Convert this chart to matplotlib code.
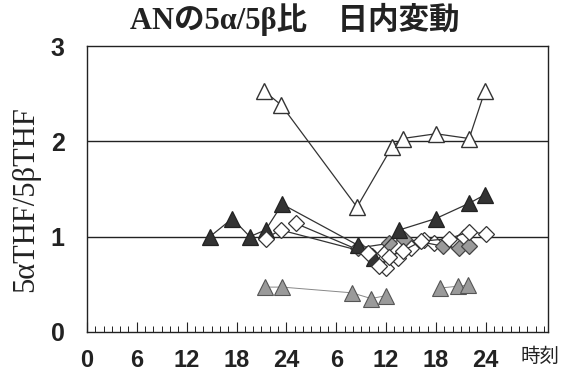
import numpy as np
import matplotlib
matplotlib.use("Agg")
import matplotlib.pyplot as plt
from matplotlib.ticker import MultipleLocator, FixedLocator

# elapsed hours since 0:00 of day 1, and 5αTHF/5βTHF ratio
open_tri_h = [21.3, 23.4, 32.5, 36.7, 38.0, 42.0, 46.0, 47.9]
open_tri_v = [2.53, 2.38, 1.31, 1.94, 2.03, 2.08, 2.03, 2.53]

dark_tri_h = [14.8, 17.5, 19.6, 21.5, 23.5, 32.6, 34.5, 37.6, 42.0, 46.0, 47.9]
dark_tri_v = [1.00, 1.19, 1.00, 1.07, 1.34, 0.91, 0.78, 1.07, 1.19, 1.35, 1.44]

gray_tri_h = [21.4, 23.5, 31.9, 34.2, 36.0, np.nan, 42.5, 44.7, 45.9]
gray_tri_v = [0.47, 0.47, 0.41, 0.35, 0.38, np.nan, 0.46, 0.48, 0.49]

gray_dia_h = [32.6, 36.4, 38.2, 42.8, 44.8, 46.0]
gray_dia_v = [0.88, 0.93, 0.98, 0.90, 0.88, 0.90]

open_dia1_h = [21.5, 23.3, 33.8, 35.1, 36.4, 38.0, 40.2, 43.6, 46.0, 48.0]
open_dia1_v = [0.98, 1.07, 0.83, 0.69, 0.79, 0.85, 0.95, 0.98, 1.05, 1.03]

open_dia2_h = [25.1, 34.3, 36.0, 37.4, 39.0, 40.6, 41.8, 45.4]
open_dia2_v = [1.14, 0.80, 0.67, 0.78, 0.88, 0.96, 0.93, 1.00]

x_ticks = [0, 6, 12, 18, 24, 30, 36, 42, 48]
x_labels = ["0", "6", "12", "18", "24", "6", "12", "18", "24"]
y_ticks = [0, 1, 2, 3]

fig = plt.figure(figsize=(5.61, 3.75), dpi=100)
ax = fig.add_axes([0.155, 0.115, 0.822, 0.762])

for yv in (1, 2):
    ax.axhline(yv, color="#222222", lw=1.0, zorder=1)

line_kw = dict(color="#333333", lw=0.9, zorder=2)
ax.plot(gray_tri_h, gray_tri_v, color="#888888", lw=0.7, zorder=2)
ax.plot(gray_tri_h, gray_tri_v, ls="none", marker="^", ms=11,
        mfc="#9a9a9a", mec="#555555", mew=0.8, zorder=3)

ax.plot(open_tri_h, open_tri_v, marker="^", ms=12, mfc="white",
        mec="#333333", mew=1.0, **line_kw)

ax.plot(open_dia2_h, open_dia2_v, marker="D", ms=8, mfc="white",
        mec="#333333", mew=0.9, **line_kw)
ax.plot(gray_dia_h, gray_dia_v, marker="D", ms=8, mfc="#9a9a9a",
        mec="#444444", mew=0.9, **line_kw)
ax.plot(dark_tri_h, dark_tri_v, marker="^", ms=12, mfc="#333333",
        mec="#222222", mew=0.9, **line_kw)
ax.plot(open_dia1_h, open_dia1_v, marker="D", ms=8, mfc="white",
        mec="#333333", mew=0.9, **line_kw)

ax.set_xlim(0, 55.5)
ax.set_ylim(0, 3)

ax.xaxis.set_major_locator(FixedLocator(x_ticks))
ax.xaxis.set_minor_locator(MultipleLocator(1))
ax.set_xticks(x_ticks)
ax.set_xticklabels(x_labels)
ax.set_yticks(y_ticks)
ax.tick_params(axis="x", which="major", direction="in", length=7, width=0.8,
               pad=12, labelsize=17, colors="#222222")
ax.tick_params(axis="x", which="minor", direction="in", length=4, width=0.7,
               colors="#222222")
ax.tick_params(axis="y", which="major", length=0, pad=16, labelsize=18,
               colors="#222222")
for lab in ax.get_xticklabels() + ax.get_yticklabels():
    lab.set_fontfamily("Liberation Sans")
    lab.set_fontweight("bold")

for sp in ax.spines.values():
    sp.set_color("#222222")
    sp.set_linewidth(1.0)

fig.text(0.525, 0.948, "ANの5α/5β比　日内変動", ha="center", va="center",
         fontsize=22, fontweight="bold",
         family=["Liberation Serif", "Noto Sans CJK JP"], color="#222222")
fig.text(0.045, 0.47, "5αTHF/5βTHF", rotation=90, ha="center", va="center",
         fontsize=22, family=["Liberation Serif", "DejaVu Serif"],
         color="#222222")
fig.text(0.962, 0.05, "時刻", ha="center", va="center", fontsize=14,
         family=["Noto Sans CJK JP"], color="#222222")

fig.savefig("out.png", dpi=100)
